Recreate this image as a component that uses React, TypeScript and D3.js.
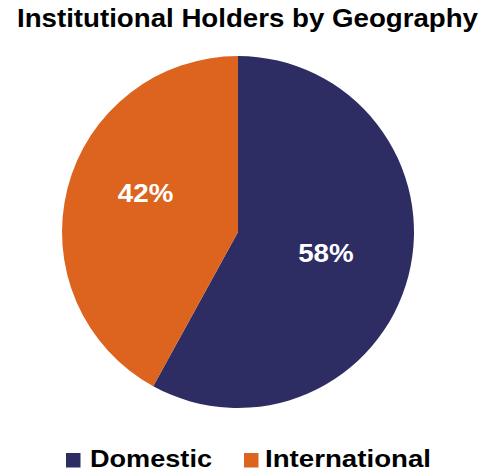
import React from "react";
import * as d3 from "d3";

const categories = ["Domestic", "International"];
const values = [58, 42];
const colors = ["#2E2D63", "#DD641E"];
const title = "Institutional Holders by Geography";

export default function App() {
  const width = 487;
  const height = 473;
  const cx = 238;
  const cy = 232;
  const r = 176;

  const pie = d3.pie<number>().sort(null).value((d) => d)(values);
  const arc = d3.arc<d3.PieArcDatum<number>>().innerRadius(0).outerRadius(r);
  const labelArc = d3
    .arc<d3.PieArcDatum<number>>()
    .innerRadius(r * 0.52)
    .outerRadius(r * 0.52);
  const total = d3.sum(values);
  const labelNudge = [[-1, -2], [-4, -17]];

  const legendX = [66, 244];
  const legendTextLen = [122, 166];

  return (
    <svg
      width={width}
      height={height}
      style={{ position: "absolute", left: 0, top: 0 }}
      fontFamily="'Liberation Sans', Arial, sans-serif"
    >
      <text
        x={17}
        y={27}
        fontSize={25}
        fontWeight="bold"
        fill="#000"
        textLength={461}
        lengthAdjust="spacingAndGlyphs"
      >
        {title}
      </text>
      <g transform={`translate(${cx},${cy})`}>
        {pie.map((p, i) => (
          <path key={i} d={arc(p) || ""} fill={colors[i]} />
        ))}
        {pie.map((p, i) => {
          const [x, y] = labelArc.centroid(p);
          return (
            <text
              key={"l" + i}
              x={x + labelNudge[i][0] - 27.5}
              y={y + labelNudge[i][1]}
              dy="0.35em"
              fontSize={26.5}
              fontWeight="bold"
              fill="#fff"
              textLength={55.5}
              lengthAdjust="spacingAndGlyphs"
            >
              {`${Math.round((values[i] / total) * 100)}%`}
            </text>
          );
        })}
      </g>
      {categories.map((c, i) => (
        <g key={c} transform={`translate(${legendX[i]},453)`}>
          <rect width={14.5} height={14.5} fill={colors[i]} />
          <text
            x={i === 0 ? 24 : 21}
            y={14}
            fontSize={24}
            fontWeight="bold"
            fill="#000"
            textLength={legendTextLen[i]}
            lengthAdjust="spacingAndGlyphs"
          >
            {c}
          </text>
        </g>
      ))}
    </svg>
  );
}
